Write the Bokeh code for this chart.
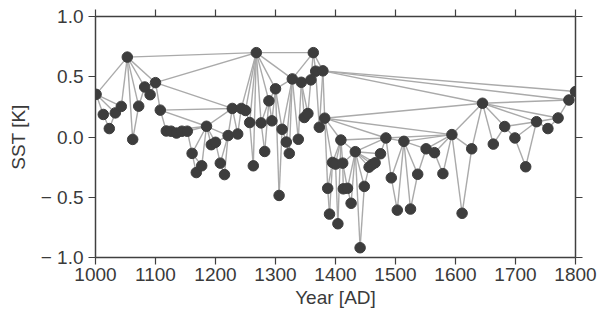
from bokeh.plotting import figure
from bokeh.models import LinearAxis, Range1d, FixedTicker, CustomJSTickFormatter
from bokeh.embed import file_html
from bokeh.resources import INLINE

years = [1001, 1013, 1023, 1033, 1043, 1053, 1062, 1072, 1082, 1091,
         1100, 1108, 1118, 1126, 1135, 1144, 1153, 1161, 1168, 1177,
         1185, 1193, 1200, 1208, 1215, 1221, 1228, 1237, 1243, 1250,
         1257, 1263, 1268, 1276, 1282, 1289, 1294, 1300, 1306, 1311,
         1318, 1323, 1328, 1338, 1343, 1348, 1354, 1359, 1363, 1367,
         1373, 1379, 1382, 1387, 1390, 1395, 1400, 1404, 1409, 1412,
         1413, 1420, 1426, 1433, 1441, 1448, 1456, 1461, 1466, 1475,
         1484, 1493, 1503, 1514, 1525, 1537, 1551, 1565, 1579, 1594,
         1611, 1627, 1645, 1663, 1682, 1699, 1717, 1735, 1754, 1771,
         1789, 1800]
sst = [0.354, 0.187, 0.07, 0.20, 0.254, 0.663, -0.02, 0.256, 0.415, 0.351,
       0.451, 0.223, 0.05, 0.048, 0.033, 0.048, 0.048, -0.136, -0.295, -0.239,
       0.089, -0.064, -0.044, -0.217, -0.312, 0.012, 0.237, 0.025, 0.237, 0.22,
       0.12, -0.239, 0.70, 0.117, -0.12, 0.30, 0.134, 0.40, -0.485, 0.064,
       -0.042, -0.136, 0.482, -0.019, 0.454, 0.162, 0.195, 0.474, 0.70, 0.546,
       0.081, 0.549, 0.156, -0.426, -0.64, -0.211, -0.225, -0.72, -0.025, -0.217,
       -0.43, -0.426, -0.55, -0.122, -0.919, -0.41, -0.25, -0.228, -0.214, -0.139,
       -0.008, -0.339, -0.607, -0.036, -0.598, -0.309, -0.098, -0.13, -0.304, 0.02,
       -0.633, -0.098, 0.28, -0.059, 0.087, -0.008, -0.247, 0.127, 0.07, 0.158,
       0.307, 0.377]

x_ticks = [1000, 1100, 1200, 1300, 1400, 1500, 1600, 1700, 1800]
y_ticks = [-1.0, -0.5, 0.0, 0.5, 1.0]

# horizontal visibility graph edges computed from the series
xs_edges, ys_edges = [], []
n = len(years)
for i in range(n):
    for j in range(i + 1, n):
        lo = min(sst[i], sst[j])
        if all(sst[k] < lo for k in range(i + 1, j)):
            xs_edges.append([years[i], years[j]])
            ys_edges.append([sst[i], sst[j]])

FONT = "Liberation Sans"
TXT = "#3a3a3a"
AX = "#404040"

p = figure(width=598, height=312, x_range=Range1d(1000, 1800), y_range=Range1d(-1, 1),
           output_backend="svg", toolbar_location=None,
           min_border_left=95, min_border_right=23, min_border_top=16, min_border_bottom=55)
p.grid.visible = False
p.outline_line_color = None

p.multi_line(xs_edges, ys_edges, line_color="#aaaaaa", line_width=1.4)
p.scatter(years, sst, size=10.5, fill_color="#3d3d3d", line_color="#3d3d3d")

xb = p.below[0]
yl = p.left[0]
xt = LinearAxis()
yr = LinearAxis()
p.add_layout(xt, "above")
p.add_layout(yr, "right")

for ax in (xb, xt):
    ax.ticker = FixedTicker(ticks=x_ticks)
for ax in (yl, yr):
    ax.ticker = FixedTicker(ticks=y_ticks)
yl.formatter = CustomJSTickFormatter(
    code="return tick < 0 ? '\\u2212 ' + Math.abs(tick).toFixed(1) : tick.toFixed(1);")

for ax in (xb, yl, xt, yr):
    ax.axis_line_color = AX
    ax.axis_line_width = 1.5
    ax.major_tick_line_color = AX
    ax.major_tick_line_width = 1.2
    ax.major_tick_out = 7
    ax.major_tick_in = 0
    ax.minor_tick_line_color = None
    ax.major_label_text_font = FONT
    ax.major_label_text_font_size = "19px"
    ax.major_label_text_color = TXT
    ax.axis_label_text_font = FONT
    ax.axis_label_text_font_size = "19px"
    ax.axis_label_text_font_style = "normal"
    ax.axis_label_text_color = TXT

for ax in (xt, yr):
    ax.major_label_text_color = None
    ax.major_label_standoff = 0

xb.major_label_standoff = 3
yl.major_label_standoff = 5
xb.axis_label = "Year [AD]"
xb.axis_label_standoff = 3
yl.axis_label = "SST [K]"
yl.axis_label_standoff = 9

open("out.html", "w").write(file_html(p, INLINE))
